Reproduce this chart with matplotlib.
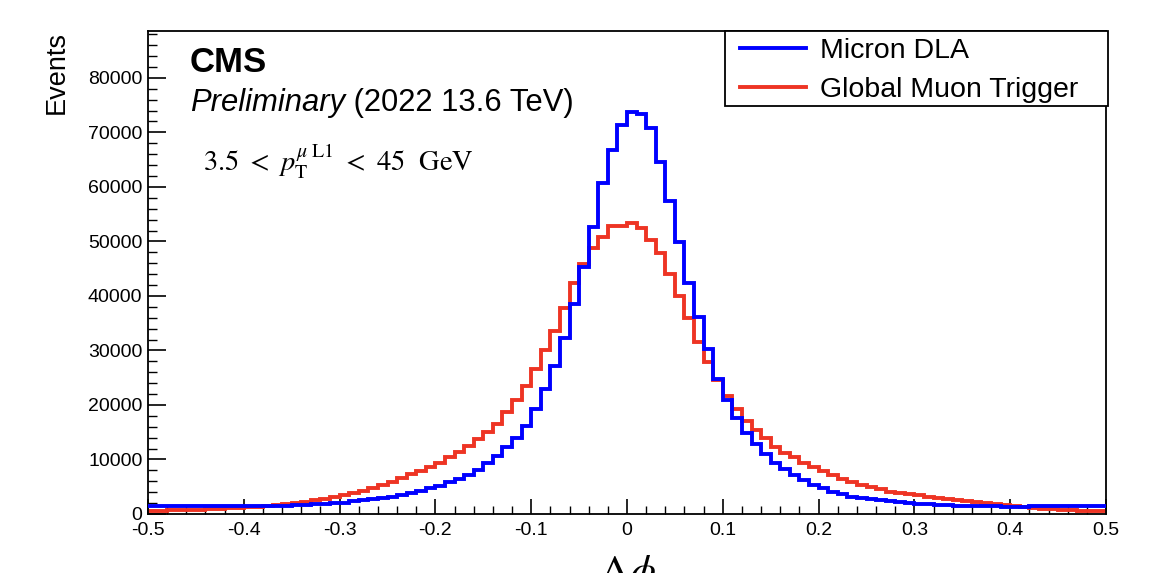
import numpy as np
import matplotlib
matplotlib.use("Agg")
import matplotlib.pyplot as plt
from matplotlib.ticker import MultipleLocator
from matplotlib.patches import Rectangle
from matplotlib.lines import Line2D

# ---------------- data ----------------
x_min, x_max, n_bins = -0.5, 0.5, 100

micron_dla_k = [
    1.5, 1.5, 1.45, 1.45, 1.45, 1.4, 1.4, 1.4, 1.4, 1.4,
    1.4, 1.45, 1.45, 1.5, 1.55, 1.6, 1.7, 1.75, 1.85, 2.0,
    2.1, 2.3, 2.5, 2.7, 2.95, 3.2, 3.5, 3.9, 4.3, 4.7,
    5.2, 5.8, 6.4, 7.2, 8.1, 9.3, 10.7, 12.2, 13.9, 16.1,
    19.2, 23.0, 27.1, 32.2, 38.6, 45.4, 52.7, 60.7, 66.7, 71.3,
    73.8, 73.4, 70.8, 64.5, 57.5, 49.9, 42.3, 36.1, 30.2, 24.8,
    21.0, 17.6, 14.8, 12.8, 11.0, 9.3, 8.2, 7.2, 6.2, 5.4,
    4.7, 4.1, 3.7, 3.2, 2.9, 2.7, 2.5, 2.3, 2.15, 2.0,
    1.9, 1.8, 1.7, 1.65, 1.55, 1.5, 1.45, 1.4, 1.4, 1.35,
    1.35, 1.35, 1.4, 1.4, 1.45, 1.5, 1.5, 1.55, 1.55, 1.5,
]

gmt_k = [
    0.55, 0.6, 0.65, 0.7, 0.75, 0.8, 0.9, 0.95, 1.05, 1.15,
    1.25, 1.35, 1.45, 1.6, 1.8, 2.0, 2.25, 2.5, 2.8, 3.1,
    3.45, 3.85, 4.3, 4.8, 5.3, 5.9, 6.6, 7.3, 7.9, 8.6,
    9.3, 10.4, 11.4, 12.5, 13.7, 15.1, 16.6, 18.8, 20.9, 23.5,
    26.6, 30.0, 33.5, 37.8, 42.4, 45.9, 48.8, 50.9, 52.8, 52.9,
    53.3, 52.4, 50.3, 47.9, 44.0, 40.0, 35.9, 31.6, 27.8, 24.5,
    21.7, 19.2, 17.1, 15.4, 13.9, 12.3, 11.2, 10.4, 9.4, 8.7,
    7.8, 7.2, 6.5, 5.9, 5.4, 5.0, 4.5, 4.1, 3.85, 3.6,
    3.4, 3.2, 3.0, 2.8, 2.6, 2.4, 2.2, 2.05, 1.85, 1.65,
    1.45, 1.3, 1.15, 1.0, 0.9, 0.8, 0.7, 0.6, 0.55, 0.5,
]

series_labels = ["Micron DLA", "Global Muon Trigger"]
x_ticks = [-0.5, -0.4, -0.3, -0.2, -0.1, 0, 0.1, 0.2, 0.3, 0.4, 0.5]
x_tick_labels = ["-0.5", "-0.4", "-0.3", "-0.2", "-0.1", "0", "0.1", "0.2", "0.3", "0.4", "0.5"]
y_ticks = [0, 10000, 20000, 30000, 40000, 50000, 60000, 70000, 80000]

micron = np.array(micron_dla_k) * 1000
gmt = np.array(gmt_k) * 1000
edges = np.linspace(x_min, x_max, n_bins + 1)

# ---------------- figure ----------------
plt.rcParams["font.family"] = ["Liberation Sans", "DejaVu Sans"]
plt.rcParams["mathtext.fontset"] = "stix"

W, H = 1166, 573
fig = plt.figure(figsize=(W / 100, H / 100), dpi=100)
ax = fig.add_axes([148 / W, 1 - 514 / H, (1106 - 148) / W, (514 - 31) / H])

blue = "#0000ff"
red = "#ee3424"
LW = 2.8
ax.stairs(gmt, edges, baseline=None, color=red, lw=LW, zorder=2)
ax.stairs(micron, edges, baseline=None, color=blue, lw=LW, zorder=3)

ax.set_xlim(x_min, x_max)
ax.set_ylim(0, 88600)

ax.set_xticks(x_ticks)
ax.set_xticklabels(x_tick_labels)
ax.set_yticks(y_ticks)
ax.set_yticklabels([str(v) for v in y_ticks])
ax.xaxis.set_minor_locator(MultipleLocator(0.02))
ax.yaxis.set_minor_locator(MultipleLocator(2000))

ax.tick_params(axis="x", which="major", direction="in", length=11, width=1.2,
               labelsize=14, pad=5.5, top=False)
ax.tick_params(axis="x", which="minor", direction="in", length=6, width=1.0, top=False)
ax.tick_params(axis="y", which="major", direction="in", length=13, width=1.2,
               labelsize=14, pad=4, right=False)
ax.tick_params(axis="y", which="minor", direction="in", length=6.5, width=1.0, right=False)
for s in ax.spines.values():
    s.set_linewidth(1.3)
    s.set_color("black")


def fx(px):
    return px / W


def fy(py):
    return 1 - py / H


# legend (drawn in figure pixel coordinates)
fig.patches.append(Rectangle((fx(725), fy(106)), fx(1108) - fx(725), fy(31) - fy(106),
                             transform=fig.transFigure, facecolor="white",
                             edgecolor="black", lw=1.3, zorder=5))
for row_y, col, lab in [(48, blue, series_labels[0]), (87, red, series_labels[1])]:
    fig.add_artist(Line2D([fx(740), fx(806)], [fy(row_y), fy(row_y)], color=col,
                          lw=LW, transform=fig.transFigure, zorder=6))
    fig.text(fx(820), fy(row_y), lab, fontsize=20.5, va="center_baseline", ha="left",
             zorder=6)

# texts
fig.text(fx(190), fy(72), "CMS", fontsize=25, fontweight="bold", va="baseline", ha="left")
t1 = fig.text(fx(190), fy(111), "Preliminary", fontsize=22.3, style="italic",
              va="baseline", ha="left")
fig.canvas.draw()
bb = t1.get_window_extent()
fig.text(bb.x1 / W, fy(111), " (2022 13.6 TeV)", fontsize=22.3, va="baseline", ha="left")
fig.text(fx(203), fy(172),
         r"$3.5\ <\ p_{\mathrm{T}}^{\mu\ \mathrm{L1}}\ <\ 45\ \ \mathrm{GeV}$",
         fontsize=20.5, va="baseline", ha="left")

fig.text(fx(57), fy(31), "Events", fontsize=19.5, rotation=90, va="top", ha="center")
fig.text(fx(627), fy(553), r"$\Delta\phi$", fontsize=30, va="top", ha="center")

fig.savefig("out.png", dpi=100)
